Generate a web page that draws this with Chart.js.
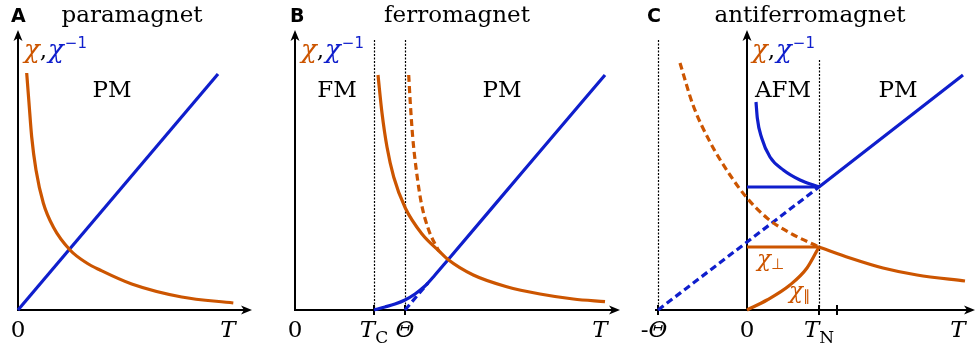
<!DOCTYPE html>
<html>
<head>
<meta charset="utf-8">
<script src="https://cdn.jsdelivr.net/npm/chart.js@4/dist/chart.umd.min.js"></script>
<style>
  html, body { margin: 0; padding: 0; background: #fff; }
  #wrap { position: relative; width: 976px; height: 352px; }
  canvas { position: absolute; top: 0; }
</style>
</head>
<body>
<div id="wrap">
  <canvas id="panelA" width="280" height="352" style="left:0px"></canvas>
  <canvas id="panelB" width="345" height="352" style="left:280px"></canvas>
  <canvas id="panelC" width="346" height="352" style="left:630px"></canvas>
</div>
<script>
const ORANGE = "#cc5500";
const BLUE = "#0f1ecc";
const SERIF = "DejaVu Serif";

// A: paramagnet (Curie law)
const paraChiT = [0.87, 1.1, 1.37, 1.8, 2.53, 3.53, 5.2, 6.87, 8.2, 11.37, 16.37, 21.53];
const paraChi = [23.7, 20.7, 17.3, 14.0, 10.7, 8.3, 6.0, 4.7, 4.0, 2.6, 1.3, 0.7];
const paraInvT = [0, 20.0];
const paraInv = [0, 23.6];

// B: ferromagnet
const TC = 7.9;
const THETA_F = 11.0;
const ferroChiT = [8.3, 8.7, 9.2, 9.87, 11.03, 12.7, 14.4, 15.3, 17.83, 21.17, 24.5, 27.83, 31.0];
const ferroChi = [23.5, 19.7, 16.3, 13.3, 10.2, 7.6, 5.9, 5.05, 3.5, 2.33, 1.6, 1.1, 0.83];
const ferroCwT = [11.37, 11.53, 11.77, 12.13, 12.63, 13.37, 14.37];
const ferroCw = [23.5, 20.7, 17.3, 14.0, 10.7, 8.0, 5.9];
const ferroInvT = [7.9, 9.0, 10.0, 11.0, 12.0, 13.0, 14.0, 15.2, 23.0, 31.0];
const ferroInv = [0, 0.3, 0.6, 1.0, 1.6, 2.4, 3.5, 4.9, 14.1, 23.5];
const ferroCwInvT = [11.0, 13.3];
const ferroCwInv = [0, 2.7];

// C: antiferromagnet
const THETA_A = -8.9;
const TN = 7.2;
const TICK_C = 9.0;
const afmInvParT = [0.9, 1.03, 1.47, 2.3, 3.63, 5.3, 7.2];
const afmInvPar = [20.8, 19.2, 17.2, 15.3, 14.0, 13.0, 12.3];
const afmInvPerpT = [0, 7.2];
const afmInvPerp = [12.3, 12.3];
const afmInvHighT = [7.2, 21.6];
const afmInvHigh = [12.3, 23.5];
const afmInvCwT = [-8.9, 7.2];
const afmInvCw = [0, 12.3];
const afmChiPerpT = [0, 7.2];
const afmChiPerp = [6.3, 6.3];
const afmChiHighT = [7.2, 10.3, 13.6, 17.0, 21.8];
const afmChiHigh = [6.3, 5.2, 4.2, 3.5, 2.9];
const afmChiCwT = [-6.7, -5.4, -3.7, -1.7, 0, 2.0, 4.3, 7.2];
const afmChiCw = [24.7, 20.5, 16.8, 13.5, 11.2, 9.2, 7.7, 6.3];
const afmChiParT = [0, 2.0, 4.3, 6.0, 7.2];
const afmChiPar = [0, 1.0, 2.5, 4.2, 6.3];

function pts(xs, ys) {
  return xs.map((x, i) => ({ x: x, y: ys[i] }));
}

function curve(xs, ys, color, dashed) {
  return {
    data: pts(xs, ys),
    borderColor: color,
    borderWidth: 3.2,
    borderDash: dashed ? [7, 4] : [],
    pointRadius: 0,
    cubicInterpolationMode: "monotone",
    fill: false,
    clip: 6
  };
}

// text made of differently styled pieces, drawn left to right
function rich(ctx, x, y, parts, align) {
  let w = 0;
  parts.forEach(p => { ctx.font = p.font; w += ctx.measureText(p.t).width + (p.gap || 0); });
  let cx = align === "center" ? x - w / 2 : x;
  ctx.textBaseline = "alphabetic";
  ctx.textAlign = "left";
  parts.forEach(p => {
    ctx.font = p.font;
    ctx.fillStyle = p.color || "#000";
    ctx.fillText(p.t, cx, y + (p.dy || 0));
    cx += ctx.measureText(p.t).width + (p.gap || 0);
  });
}

const big = "23px " + SERIF;
const ital = "italic 23px " + SERIF;
const sub = "17px " + SERIF;
const chiLabel = [
  { t: "χ", font: "italic 26px " + SERIF, color: ORANGE },
  { t: ",", font: big, color: "#000", gap: 1 },
  { t: "χ", font: "italic 26px " + SERIF, color: BLUE, gap: 1 },
  { t: "−1", font: "15px DejaVu Sans", color: BLUE, dy: -10 }
];

const decor = {
  id: "decor",
  beforeDatasetsDraw(chart, args, opts) {
    const { ctx, chartArea: a, scales: { x, y } } = chart;
    const x0 = Math.round(x.getPixelForValue(0));
    const y0 = Math.round(y.getPixelForValue(0));
    ctx.save();
    // dotted guide lines
    ctx.strokeStyle = "#000";
    ctx.lineWidth = 1.2;
    ctx.setLineDash([2, 1.5]);
    (opts.guides || []).forEach(g => {
      const px = Math.round(x.getPixelForValue(g.at)) + 0.5;
      ctx.beginPath();
      ctx.moveTo(px, g.top);
      ctx.lineTo(px, y0);
      ctx.stroke();
    });
    ctx.setLineDash([]);
    // axes
    ctx.lineWidth = 2;
    ctx.beginPath();
    ctx.moveTo(a.left, y0);
    ctx.lineTo(a.right - 6, y0);
    ctx.moveTo(x0, y0 + 1);
    ctx.lineTo(x0, a.top + 6);
    ctx.stroke();
    (opts.ticks || []).forEach(t => {
      const px = Math.round(x.getPixelForValue(t));
      ctx.beginPath();
      ctx.moveTo(px, y0 - 5);
      ctx.lineTo(px, y0 + 5);
      ctx.stroke();
    });
    ctx.fillStyle = "#000";
    ctx.beginPath();
    ctx.moveTo(a.right, y0);
    ctx.lineTo(a.right - 11, y0 - 4.5);
    ctx.lineTo(a.right - 8, y0);
    ctx.lineTo(a.right - 11, y0 + 4.5);
    ctx.closePath();
    ctx.fill();
    ctx.beginPath();
    ctx.moveTo(x0, a.top);
    ctx.lineTo(x0 - 4.5, a.top + 11);
    ctx.lineTo(x0, a.top + 8);
    ctx.lineTo(x0 + 4.5, a.top + 11);
    ctx.closePath();
    ctx.fill();
    ctx.restore();
  },
  afterDraw(chart, args, opts) {
    const { ctx, scales: { x } } = chart;
    ctx.save();
    ctx.font = "bold 19px DejaVu Sans";
    ctx.fillStyle = "#000";
    ctx.fillText(opts.letter, opts.letterX, 22);
    rich(ctx, opts.titleX, 22, [{ t: opts.title, font: big }], "center");
    rich(ctx, opts.chiX, 58, chiLabel, "left");
    (opts.regions || []).forEach(r => rich(ctx, r.x, 97, [{ t: r.t, font: big }], "center"));
    (opts.notes || []).forEach(n => rich(ctx, n.x, n.y, n.parts, "left"));
    (opts.labels || []).forEach(l => rich(ctx, x.getPixelForValue(l.at) + (l.dx || 0), 337, l.parts, "center"));
    ctx.restore();
  }
};

function makeChart(id, datasets, xMin, xMax, pad, decorOpts) {
  return new Chart(document.getElementById(id), {
    type: "line",
    data: { datasets: datasets },
    options: {
      responsive: false,
      animation: false,
      events: [],
      layout: { padding: pad },
      scales: {
        x: { type: "linear", min: xMin, max: xMax, display: false },
        y: { type: "linear", min: 0, max: 28, display: false }
      },
      plugins: { legend: { display: false }, tooltip: { enabled: false }, decor: decorOpts }
    },
    plugins: [decor]
  });
}

const plain = t => ({ t: t, font: big });
const italic = t => ({ t: t, font: ital });

makeChart("panelA", [
  curve(paraChiT, paraChi, ORANGE),
  curve(paraInvT, paraInv, BLUE)
], 0, 23.4, { left: 18, right: 28, top: 30, bottom: 42 }, {
  letter: "A", letterX: 11, title: "paramagnet", titleX: 132, chiX: 24,
  regions: [{ t: "PM", x: 112 }],
  labels: [
    { at: 0, parts: [plain("0")] },
    { at: 21.0, parts: [italic("T")] }
  ]
});

makeChart("panelB", [
  curve(ferroChiT, ferroChi, ORANGE),
  curve(ferroCwT, ferroCw, ORANGE, true),
  curve(ferroInvT, ferroInv, BLUE),
  curve(ferroCwInvT, ferroCwInv, BLUE, true)
], 0, 32.5, { left: 15, right: 5, top: 30, bottom: 42 }, {
  letter: "B", letterX: 10, title: "ferromagnet", titleX: 177, chiX: 21,
  guides: [{ at: TC, top: 40 }, { at: THETA_F, top: 40 }],
  ticks: [TC, THETA_F],
  regions: [{ t: "FM", x: 57 }, { t: "PM", x: 222 }],
  labels: [
    { at: 0, parts: [plain("0")] },
    { at: TC, parts: [italic("T"), { t: "C", font: sub, dy: 6 }] },
    { at: THETA_F, parts: [italic("Θ")] },
    { at: 30.5, parts: [italic("T")] }
  ]
});

makeChart("panelC", [
  curve(afmChiCwT, afmChiCw, ORANGE, true),
  curve(afmInvCwT, afmInvCw, BLUE, true),
  curve(afmInvParT, afmInvPar, BLUE),
  curve(afmInvPerpT, afmInvPerp, BLUE),
  curve(afmInvHighT, afmInvHigh, BLUE),
  curve(afmChiPerpT, afmChiPerp, ORANGE),
  curve(afmChiHighT, afmChiHigh, ORANGE),
  curve(afmChiParT, afmChiPar, ORANGE)
], -9.2, 22.8, { left: 25, right: 1, top: 30, bottom: 42 }, {
  letter: "C", letterX: 17, title: "antiferromagnet", titleX: 180, chiX: 122,
  guides: [{ at: THETA_A, top: 40 }, { at: TN, top: 60 }],
  ticks: [THETA_A, TN, TICK_C],
  regions: [{ t: "AFM", x: 153 }, { t: "PM", x: 268 }],
  notes: [
    { x: 127, y: 266, parts: [{ t: "χ", font: "italic 23px " + SERIF, color: ORANGE }, { t: "⊥", font: "15px DejaVu Sans", color: ORANGE, dy: 3 }] },
    { x: 159, y: 298, parts: [{ t: "χ", font: "italic 23px " + SERIF, color: ORANGE }, { t: "∥", font: "15px DejaVu Sans", color: ORANGE, dy: 3 }] }
  ],
  labels: [
    { at: THETA_A, dx: -4, parts: [plain("-"), italic("Θ")] },
    { at: 0, parts: [plain("0")] },
    { at: TN, parts: [italic("T"), { t: "N", font: sub, dy: 6 }] },
    { at: 21.1, parts: [italic("T")] }
  ]
});
</script>
</body>
</html>
